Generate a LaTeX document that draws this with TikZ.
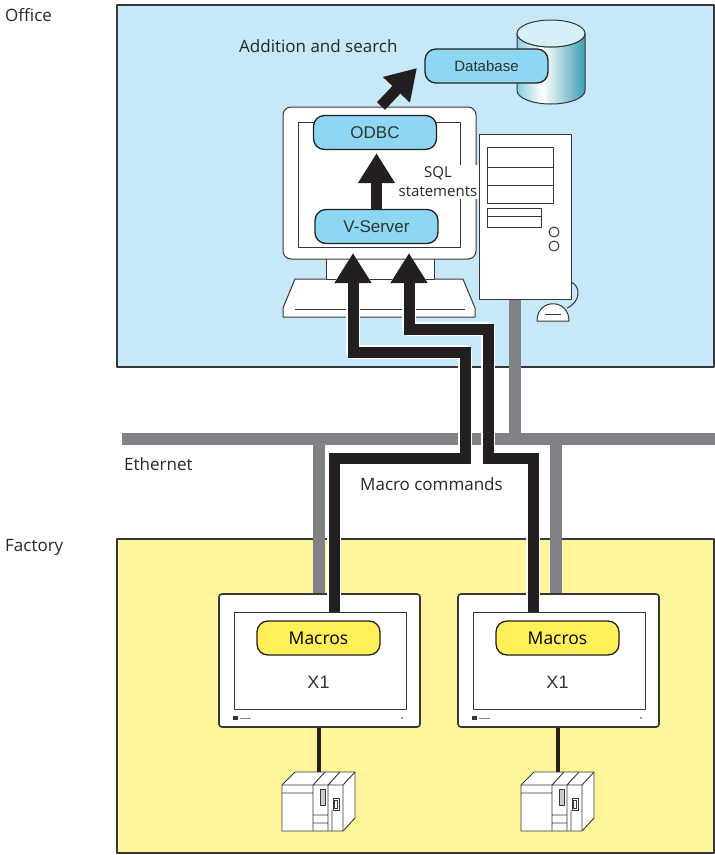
\documentclass[tikz,border=0pt]{standalone}
\usepackage{fontspec}
\setmainfont{Open Sans}
\newfontfamily\arialfont{Liberation Sans}
\usetikzlibrary{positioning,arrows.meta}

\definecolor{officebg}{RGB}{199,232,248}
\definecolor{factorybg}{RGB}{255,246,155}
\definecolor{appblue}{RGB}{141,215,243}
\definecolor{macroyellow}{RGB}{255,240,90}
\definecolor{netgray}{RGB}{128,130,133}
\definecolor{cmdblack}{RGB}{35,31,32}
\definecolor{edge}{RGB}{55,55,55}
\definecolor{dbleft}{RGB}{140,207,222}
\definecolor{dbright}{RGB}{58,157,176}
\definecolor{dbtop}{RGB}{214,240,247}
\pgfdeclarehorizontalshading{dbshade}{100bp}{color(0bp)=(dbleft); color(25bp)=(dbleft);
  color(44bp)=(white); color(75bp)=(dbright); color(100bp)=(dbright)}

\begin{document}
\begin{tikzpicture}[x=1pt,y=-1pt,line join=round,
  area/.style={draw=edge,line width=1.4pt},
  part/.style={draw=edge,line width=1pt,fill=white},
  app/.style={draw=cmdblack,line width=1.3pt,fill=appblue,rounded corners=11pt,
    minimum width=123pt,minimum height=34pt,text=black!80,font=\arialfont\fontsize{17}{20}\selectfont},
  macro/.style={app,fill=macroyellow,text=black,font=\fontsize{17.5}{20}\selectfont},
  lbl/.style={anchor=base west,inner sep=0pt,text=black!85,font=\fontsize{17}{20}\selectfont},
  net/.style={draw=netgray,line width=12pt},
  flow/.style={draw=cmdblack,line width=11pt,-{Triangle[width=35pt,length=30pt]}},
  cmd/.style={flow,line join=miter,preaction={draw=white,line width=13.5pt}}]
\useasboundingbox (0,0) rectangle (715,855);

% office and factory zones
\draw[area,fill=officebg] (117,5) rectangle (714,367);
\draw[area,fill=factorybg] (117,539) rectangle (714,853);
\node[lbl] (office) at (5,21.5) {Office};
\node[lbl] (factory) at (5,551) {Factory};

% ethernet
\coordinate (lanL) at (122,439);
\coordinate (lanR) at (715,439);
\coordinate (pcdrop) at (515,299);
\draw[net] (lanL) -- (lanR);
\draw[net] (pcdrop) -- (pcdrop |- lanL);
\draw[net] (319,439) -- (319,594);
\draw[net] (556,439) -- (556,594);
\node[lbl] (ethernet) at (124,470) {Ethernet};

% office pc
\draw[part] (295,279) -- (463,279) -- (475,308) -- (475,317) -- (283,317) -- (283,308) -- cycle;
\draw[edge,line width=1pt] (295,309) -- (465,309);
\draw[part] (326,255) rectangle (434,279);
\draw[part,rounded corners=8pt] (283,107) rectangle (476,259);
\draw[part] (298,122) rectangle (460,247);
\draw[part] (479,134) rectangle (571,299);
\draw[part] (487,147) rectangle (553,203);
\draw[edge,line width=1pt] (487,167) -- (553,167) (487,185) -- (553,185);
\draw[part] (487,208) rectangle (541,227);
\draw[edge,line width=1pt] (487,216) -- (541,216);
\draw[part] (554,232) circle[radius=5] (554,246) circle[radius=5];
\draw[edge,line width=1pt] (571,282) .. controls (581,286) and (581,302) .. (567,308);
\draw[part] (537,321) .. controls (537,298) and (569,298) .. (569,321) -- cycle;
\draw[edge,line width=1pt] (545,314) -- (561,314);

% database
\path[shade,shading=dbshade,draw=edge,line width=1pt] (517,33.5) -- (517,90.5)
  arc[start angle=180,end angle=0,x radius=34,y radius=13.5] -- (585,33.5)
  arc[start angle=0,end angle=180,x radius=34,y radius=13.5] -- cycle;
\draw[edge,line width=1pt,fill=dbtop] (551,33.5) ellipse[x radius=34,y radius=13.5];

\node[app,font=\arialfont\fontsize{15}{18}\selectfont] (db) at (486.5,66) {Database};
\node[app] (odbc) at (375,132.5) {ODBC};
\node[app] (vsrv) at (376.5,226.5) {V-Server};
\node[lbl] (addsearch) at (239,52) {Addition and search};
\node[fill=white,inner sep=2pt,align=center,text=black!85,font=\fontsize{15}{19}\selectfont]
  (sql) at (438,182) {SQL\\statements};

\coordinate (up) at (381,106);
\coordinate (dbin) at (417,68);
\draw[flow] (up) -- (dbin);
\draw[flow,shorten >=3pt] (vsrv.north) -- (vsrv.north |- odbc.south);

% factory: two X1 panels, each with a PLC
\foreach \i/\dx in {1/0,2/239}{
  \begin{scope}[xshift=\dx pt]
    \node[part,line width=1.6pt,rounded corners=3pt,minimum width=201pt,minimum height=133pt]
      (hmi\i) at (319.5,660.5) {};
    \draw[part] (234,612) rectangle (406,709);
    \node[macro] (mac\i) at (318.5,638) {Macros};
    \node[below=16.7pt of mac\i,text=black!80,font=\arialfont\fontsize{18}{20}\selectfont] (xone\i) {X1};
    \fill[edge] (233,716) rectangle (238,720);
    \draw[gray,line width=1pt] (240,718) -- (251,718);
    \fill[edge] (402,718) circle[radius=0.8];
    % plc
    \coordinate (plc\i) at (318.5,772);
    \draw[cmdblack,line width=4pt] (hmi\i.south -| plc\i) -- (plc\i);
    \draw[part,line width=0.9pt] (282,785) -- (295,772) -- (355,772) -- (355,818) -- (343,831) -- (282,831) -- cycle;
    \draw[edge,line width=0.9pt] (282,785) -- (343,785) -- (355,772) (343,785) -- (343,831)
      (313,785) -- (325,772) (328,785) -- (340,772)
      (313,785) -- (313,831) (328,785) -- (328,831) (332,810) -- (332,831)
      (282,793) -- (313,793) (313,815) -- (328,815) (313,823) -- (328,823);
    \draw[edge,line width=0.8pt,fill=gray!40] (320,789) rectangle (325,805);
    \draw[edge,line width=0.8pt] (333,798) rectangle (339,810) (334.5,800) rectangle (337.5,808);
  \end{scope}
}

% macro commands
\coordinate (out1) at (334,612);
\coordinate (out2) at (533,612);
\coordinate (in1) at (353,253);
\coordinate (in2) at (409,253);
\draw[cmd] (out1) |- (465,458) |- (353,352) -- (in1);
\draw[cmd] (out2) |- (488,458) |- (409,329) -- (in2);
\node[lbl] (macrocmd) at (360,490.7) {Macro commands};
\end{tikzpicture}
\end{document}
